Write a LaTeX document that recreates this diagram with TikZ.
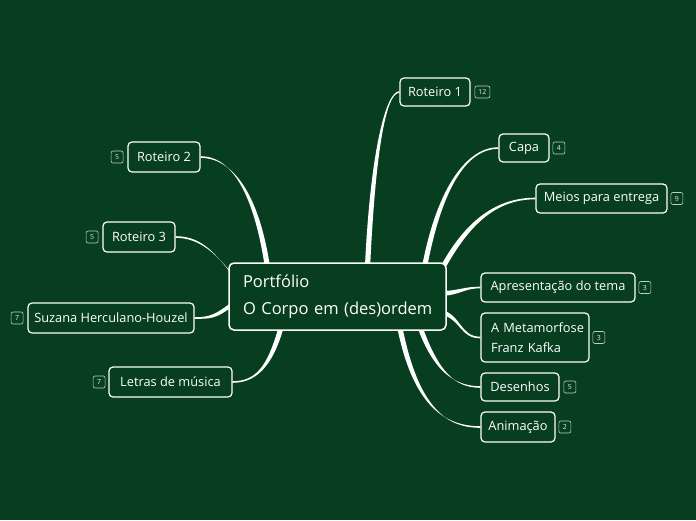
\documentclass[tikz,border=0pt]{standalone}
\usepackage{fontspec}
\setmainfont{Open Sans}
\usetikzlibrary{calc,positioning,backgrounds}
\definecolor{bg}{RGB}{7,62,32}
\newcommand\branch[6]{\fill[white] ($#1+#5$) .. controls ($#2+#5$) and ($#3+#6$) .. ($#4+#6$) -- ($#4-#6$) .. controls ($#3-#6$) and ($#2-#5$) .. ($#1-#5$) -- cycle;}
\tikzset{
  box/.style={draw=white, line width=1.2pt, rounded corners=4pt, fill=bg, text=white,
    font=\fontsize{12.8}{14}\selectfont, inner sep=0pt, minimum height=29pt, align=center},
  centerbox/.style={draw=white, line width=1.5pt, rounded corners=5pt, fill=bg, text=white,
    font=\fontsize{16.5}{27}\selectfont, inner xsep=4pt, inner ysep=0pt, minimum height=67pt,
    text width=209pt, align=left},
  badge/.style={draw=white!75!bg, line width=0.6pt, rounded corners=2pt, fill=bg, text=white!90!bg,
    font=\fontsize{7}{7}\selectfont, inner sep=0pt, minimum width=12pt, minimum height=12pt}
}
\begin{document}
\begin{tikzpicture}[x=1pt,y=-1pt]
\useasboundingbox (0,0) rectangle (696,520);
% central
\node[centerbox] (c) at (337.5,296.5) {\hspace*{10pt}Portfólio\\\hspace*{10pt}O Corpo em (des)ordem};
% right side
\node[box, minimum width=70pt, minimum height=28pt] (r1) at (435,92) {Roteiro 1};
\node[box, minimum width=50pt, minimum height=28pt] (capa) at (524,148) {Capa};
\node[box, minimum width=131pt] (meios) at (601.5,198.5) {Meios para entrega};
\node[box, minimum width=154pt] (apres) at (558,287.5) {Apresentação do tema};
\node[box, minimum width=108pt, minimum height=49pt, text width=102pt, inner xsep=3pt, align=left,
  font=\fontsize{12.8}{20}\selectfont] (meta) at (535,337.5) {\hspace*{7pt}A Metamorfose\\\hspace*{7pt}Franz Kafka};
\node[box, minimum width=78pt, minimum height=28pt] (des) at (520,387) {Desenhos};
\node[box, minimum width=74pt, minimum height=30pt] (anim) at (518,427) {Animação};
% left side
\node[box, minimum width=72pt, minimum height=30pt] (r2) at (164,157) {Roteiro 2};
\node[box, minimum width=72pt, minimum height=30pt] (r3) at (139,237) {Roteiro 3};
\node[box, minimum width=166pt, minimum height=30pt] (suz) at (111,318) {Suzana Herculano-Houzel};
\node[box, minimum width=123pt, minimum height=30pt] (let) at (170.5,382) {Letras de música};
% badges
\node[badge, minimum width=15pt, right=4pt of r1] (r1b) {12};
\node[badge, right=3pt of capa] (capab) {4};
\node[badge, right=3pt of meios] (meiosb) {9};
\node[badge, right=3pt of apres] (apresb) {3};
\node[badge, right=3pt of meta] (metab) {3};
\node[badge, right=4pt of des] (desb) {5};
\node[badge, right=3pt of anim] (animb) {2};
\node[badge, left=4pt of r2] (r2b) {5};
\node[badge, left=4pt of r3] (r3b) {5};
\node[badge, left=4pt of suz] (suzb) {7};
\node[badge, left=3pt of let] (letb) {7};
\begin{pgfonlayer}{background}
\fill[bg] (0,0) rectangle (696,520);
\coordinate (s1) at ($(c.north)+(30,5)$);
\coordinate (s2) at ($(c.north)+(87,5)$);
\coordinate (s3) at ($(c.north east)+(-6,9)$);
\coordinate (s4) at ($(c.east)+(-6,-3)$);
\coordinate (s5) at ($(c.east)+(-6,15)$);
\coordinate (s6) at ($(c.south)+(82,-5)$);
\coordinate (s7) at ($(c.south)+(62,-5)$);
\coordinate (s8) at ($(c.north)+(-70,5)$);
\coordinate (s9) at ($(c.north west)+(6,15)$);
\coordinate (s10) at ($(c.west)+(6,6)$);
\coordinate (s11) at ($(c.south)+(-56,-5)$);
\branch{(s1)}{(373,150)}{(386,92)}{(r1.west)}{(2.6,0)}{(0,0.8)}
\branch{(s2)}{(440,185)}{(468,148)}{(capa.west)}{(2.6,0)}{(0,0.8)}
\branch{(s3)}{(468,220)}{(498,198.5)}{(meios.west)}{(2,1.6)}{(0,0.8)}
\branch{(s4)}{(460,293)}{(463,287.5)}{(apres.west)}{(0,2.4)}{(0,0.8)}
\branch{(s5)}{(462,318)}{(460,337.5)}{(meta.west)}{(0,2.4)}{(0,0.8)}
\branch{(s6)}{(436,372)}{(455,387)}{(des.west)}{(2.6,0)}{(0,0.8)}
\branch{(s7)}{(416,410)}{(448,427)}{(anim.west)}{(2.6,0)}{(0,0.8)}
\branch{(s8)}{(255,185)}{(228,157)}{(r2.east)}{(2.6,0)}{(0,0.8)}
\branch{(s9)}{(214,250)}{(198,237)}{(r3.east)}{(1.8,1.8)}{(0,0.8)}
\branch{(s10)}{(216,317)}{(210,318)}{(suz.east)}{(0,2.4)}{(0,0.8)}
\branch{(s11)}{(270,368)}{(255,382)}{(let.east)}{(2.6,0)}{(0,0.8)}
\end{pgfonlayer}
\end{tikzpicture}
\end{document}
